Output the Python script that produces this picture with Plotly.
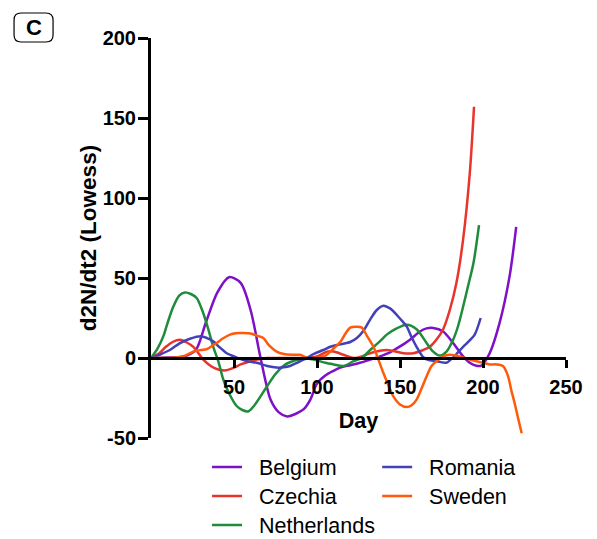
import plotly.graph_objects as go

# ---- data ----
belgium_day = [0, 10, 20, 27, 33, 40, 47, 54, 60, 66, 72, 77, 82, 87, 92, 96, 100, 105, 110, 114, 120, 126, 132, 138, 143, 148, 152, 156, 162, 166, 170, 176, 182, 188, 192, 196, 199, 204, 210, 216, 220]
belgium_val = [0, 0.3, 1, 5, 22, 41, 50.5, 47, 30, 0, -26, -34, -36.5, -35, -32, -26, -16, -11, -8, -6, -4.5, -3, -1, 1, 3, 6, 8.5, 11.4, 16.6, 18.5, 18.8, 16.6, 9.4, 1, -3, -4.8, -4.8, 3, 22, 51, 82]

czechia_day = [0, 5, 9, 13, 17.5, 21, 25.5, 31.5, 36, 40, 45, 50, 54, 60, 64, 70, 80, 90, 100, 106, 110, 116, 122, 127, 132, 142, 152, 158, 164, 168, 172, 176, 180, 184, 188, 192, 194.6]
czechia_val = [0, 3, 7, 10, 11.4, 10, 7, -1, -5, -7, -7.7, -6, -4, -2, -1, 0, 0, 0, 1, 4, 4, 2, 0, 1, 3, 5, 3, 3, 5, 7, 11.5, 18, 30, 47, 74, 115, 157]

netherlands_day = [0, 4, 7.4, 10, 13.4, 17, 20.5, 24, 27.5, 31.5, 34.5, 37.5, 40.5, 43.6, 47, 51.6, 55, 58.6, 62, 66, 69.7, 75, 79.7, 84, 89.8, 95, 100, 105, 110, 116, 122, 127, 132, 138, 142, 148, 154, 160, 166, 170, 174, 178, 182, 185, 188, 191, 194.2, 197.6]
netherlands_val = [0, 6, 13.5, 22, 32, 39, 41, 40, 37.5, 28, 18, 7, -2, -13.6, -22, -30, -32.5, -33.4, -30, -24, -18, -10, -5, -2.5, -1, -0.5, -1.5, -3, -4, -5, -2, 0, 5, 10.5, 14.6, 18.5, 20.8, 18, 9.4, 4, 1.5, 4, 11.4, 20, 32, 45, 59, 83]

romania_day = [0, 5, 11.4, 17, 23.5, 30.5, 37.5, 41, 45.6, 50, 53.6, 58, 63.7, 70, 75.7, 80, 83.7, 88, 93.8, 98, 103.8, 108, 114, 120, 124, 128, 132, 136, 140, 144, 148, 151, 154, 157, 160, 164, 168, 172, 176, 178, 180, 184, 188, 192, 195, 198.6]
romania_val = [0, 2, 5, 9, 12, 13.5, 10.4, 7, 3, 1, -0.5, -2, -3, -5, -6, -5.8, -5, -3, 0, 2.5, 5, 7, 8.5, 10, 12.5, 17, 24, 30, 32.7, 31, 27, 23.5, 19.8, 13, 7, 0.5, -1.5, -2, -2.8, -3, -1.5, 2.5, 7, 11, 14.6, 25]

sweden_day = [0, 10, 16, 20.5, 25.5, 30, 33.5, 36, 39.6, 43, 47.6, 51, 55.6, 60, 63.7, 67.7, 71, 75.7, 80, 85, 89.8, 95.8, 100, 105.8, 110, 114, 117, 120, 124, 127, 130, 134, 137, 140, 143, 146, 150, 154, 157, 160, 163, 166, 169, 172, 176, 180, 186, 192, 196, 200, 204, 208, 212, 215, 217, 219, 221, 223.3]
sweden_val = [0, 0, 0.5, 1.5, 4, 5, 5.5, 7, 9.4, 12, 14.6, 15.5, 15.6, 15.3, 14, 12.5, 8, 4, 2.5, 2, 2, -0.5, 0, 2, 6, 10, 15, 19, 19.5, 19, 14, 7, -1, -9.4, -17, -24, -29, -30.6, -29.5, -26, -19, -11.5, -5, -2, 1, 2, 1, -1, -2, -3, -4, -4, -5, -11, -20, -28, -37, -47]

x_ticks = [50, 100, 150, 200, 250]
y_ticks = [-50, 0, 50, 100, 150, 200]

series = [
    ("Belgium", belgium_day, belgium_val, "#7f10c8", "legend"),
    ("Czechia", czechia_day, czechia_val, "#e8342a", "legend"),
    ("Netherlands", netherlands_day, netherlands_val, "#1f8c3b", "legend"),
    ("Romania", romania_day, romania_val, "#4141b8", "legend2"),
    ("Sweden", sweden_day, sweden_val, "#ff5a0a", "legend2"),
]

FONT = "Liberation Sans, Arial, sans-serif"
fig = go.Figure()
for name, xs, ys, color, leg in series:
    fig.add_trace(go.Scatter(
        x=xs, y=ys, mode="lines",
        name='<span style="font-size:21.5px">\u00a0\u00a0' + name + "</span>",
        line=dict(color=color, width=2.5, shape="spline", smoothing=0.8),
        legend=leg,
    ))

# page body has an 8px default margin; figure is sized/margined to compensate
fig.update_layout(
    width=589, height=531,
    margin=dict(l=143, r=31, t=30, b=101, autoexpand=False),
    paper_bgcolor="white", plot_bgcolor="white",
    font=dict(family=FONT, color="black"),
    showlegend=True,
    legend=dict(x=0.135, y=-0.024, xanchor="left", yanchor="top",
                font=dict(size=20, family=FONT), bgcolor="rgba(0,0,0,0)",
                tracegroupgap=0),
    legend2=dict(x=0.545, y=-0.024, xanchor="left", yanchor="top",
                 font=dict(size=20, family=FONT), bgcolor="rgba(0,0,0,0)",
                 tracegroupgap=0),
    xaxis=dict(
        range=[0, 250], tickvals=x_ticks, ticktext=[str(v) for v in x_ticks],
        showline=True, linecolor="black", linewidth=3,
        ticks="outside", ticklen=8, tickwidth=3, tickcolor="black",
        showgrid=False, zeroline=False, automargin=False,
        anchor="free", position=0.2,
        tickfont=dict(size=20, family=FONT, weight="bold"),
        ticklabelstandoff=2,
        title=dict(text="<b>Day</b>", font=dict(size=21.5, family=FONT), standoff=15),
    ),
    yaxis=dict(
        range=[-50, 200], tickvals=y_ticks, ticktext=[str(v) for v in y_ticks],
        showline=True, linecolor="black", linewidth=3,
        ticks="outside", ticklen=10, tickwidth=3, tickcolor="black",
        showgrid=False, zeroline=False, automargin=False,
        tickfont=dict(size=20, family=FONT, weight="bold"),
        ticklabelstandoff=-2,
        title=dict(text="<b>d2N/dt2 (Lowess)</b>", font=dict(size=22.5, family=FONT), standoff=0),
    ),
)

# panel label "C" in a rounded box
x0, x1, y0, y1 = -0.330, -0.236, 0.990, 1.0625
rx, ry = 0.017, 0.0175
path = (f"M{x0+rx},{y0} L{x1-rx},{y0} Q{x1},{y0} {x1},{y0+ry} "
        f"L{x1},{y1-ry} Q{x1},{y1} {x1-rx},{y1} L{x0+rx},{y1} Q{x0},{y1} {x0},{y1-ry} "
        f"L{x0},{y0+ry} Q{x0},{y0} {x0+rx},{y0} Z")
fig.add_shape(type="path", path=path, xref="paper", yref="paper",
              line=dict(color="black", width=1.2))
fig.add_annotation(x=(x0 + x1) / 2, y=(y0 + y1) / 2, xref="paper", yref="paper",
                   xanchor="center", yanchor="middle",
                   text="<b>C</b>", showarrow=False,
                   font=dict(size=22, family=FONT, color="black"))

fig.write_html("out.html")
